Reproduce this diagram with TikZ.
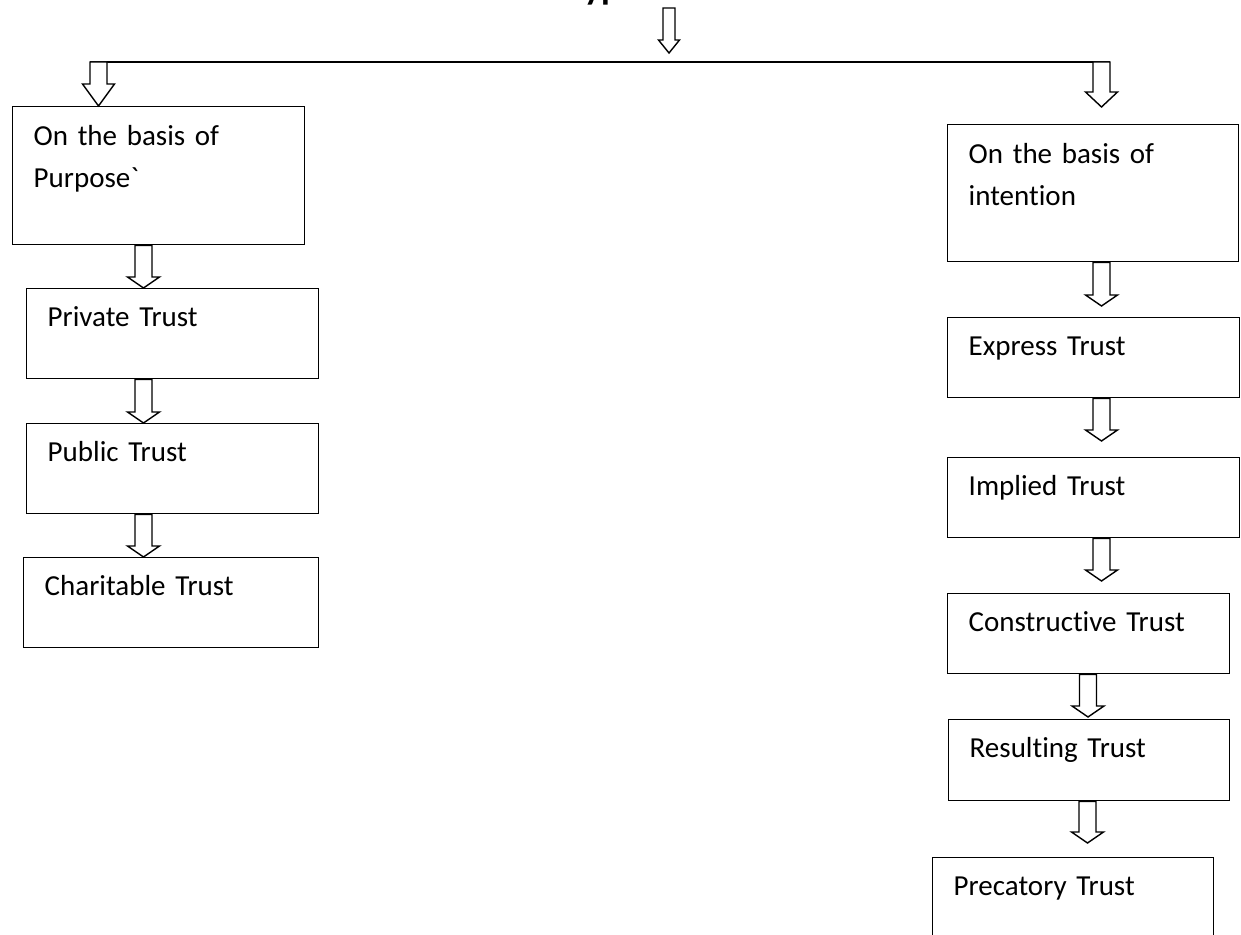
\documentclass[tikz,border=0pt]{standalone}
\usepackage{fontspec}
\setmainfont{Carlito}[Ligatures={TeXOff,CommonOff}]
\usetikzlibrary{calc}

% hollow block arrow: [head length]{x (px)}{from}{to}
\newcommand{\shafthw}{4.25pt}
\newcommand{\headhw}{8pt}
\newcommand{\hollowarrow}[4][5.5pt]{%
  \draw[blockarrow] let \p1=(#2,0), \p2=#3, \p3=#4 in
    (\x1-\shafthw,\y2) -- (\x1-\shafthw,\y3+#1) -- (\x1-\headhw,\y3+#1)
    -- (\x1,\y3) -- (\x1+\headhw,\y3+#1) -- (\x1+\shafthw,\y3+#1)
    -- (\x1+\shafthw,\y2) -- cycle;}

\begin{document}
\begin{tikzpicture}[x=0.5pt, y=-0.5pt,
    box/.style={rectangle, draw, line width=0.7pt, anchor=north west, align=left,
      inner xsep=10.5pt, inner ysep=0pt, text height=19pt,
      font=\fontsize{14.5}{21}\selectfont},
    blockarrow/.style={draw, line width=0.7pt, fill=white, line join=miter},
    title/.style={font=\bfseries\fontsize{18}{22}\selectfont, anchor=base west, inner sep=0pt}]
    \useasboundingbox (0,0) rectangle (1241,935);

    % Nodes
    \node[title] (title) at (567,0) {Types of Trust};
    \node[box, text width=125pt, text height=19.5pt, text depth=49.5pt] (purpose) at (12,106) {On the basis of\\Purpose`};
    \node[box, text width=125pt, text depth=26pt] (private) at (26,288) {Private Trust};
    \node[box, text width=125pt, text depth=26pt] (public) at (26,423) {Public Trust};
    \node[box, text width=126.5pt, text depth=26pt] (charitable) at (23,557) {Charitable Trust};

    \node[box, text width=124.5pt, text height=19.5pt, text depth=49pt] (intention) at (947,124) {On the basis of\\intention};
    \node[box, text width=125pt, text depth=21pt] (express) at (947,317) {Express Trust};
    \node[box, text width=125pt, text depth=21pt] (implied) at (947,457) {Implied Trust};
    \node[box, text width=120pt, text depth=21pt] (constructive) at (947,593) {Constructive Trust};
    \node[box, text width=119.5pt, text depth=21.5pt] (resulting) at (948,719) {Resulting Trust};
    \node[box, text width=119.5pt, text depth=30pt] (precatory) at (932,857) {Precatory Trust};

    \coordinate (topstart) at (669,8);
    \coordinate (split) at (669,62);
    \coordinate (lsplit) at (90,62);
    \coordinate (rsplit) at (1110,62);

    % Arrows
    {\renewcommand{\shafthw}{3pt}\renewcommand{\headhw}{5.25pt}%
     \hollowarrow[6.5pt]{669}{(topstart)}{([yshift=4.5pt]split)}}
    \draw[line width=0.7pt] (lsplit) -- (rsplit);
    \hollowarrow[11pt]{98.5}{(lsplit)}{(purpose.north)}
    \hollowarrow[7.5pt]{1101.5}{(rsplit)}{([yshift=8.5pt]intention.north)}

    \hollowarrow{143.5}{(purpose.south)}{(private.north)}
    \hollowarrow{143.5}{(private.south)}{(public.north)}
    \hollowarrow{143.5}{(public.south)}{(charitable.north)}

    \hollowarrow{1101.5}{(intention.south)}{([yshift=5.5pt]express.north)}
    \hollowarrow{1101.5}{(express.south)}{([yshift=8pt]implied.north)}
    \hollowarrow{1101.5}{(implied.south)}{([yshift=6pt]constructive.north)}
    \hollowarrow{1088}{(constructive.south)}{([yshift=1pt]resulting.north)}
    \hollowarrow{1087.5}{(resulting.south)}{([yshift=7pt]precatory.north)}
\end{tikzpicture}
\end{document}
